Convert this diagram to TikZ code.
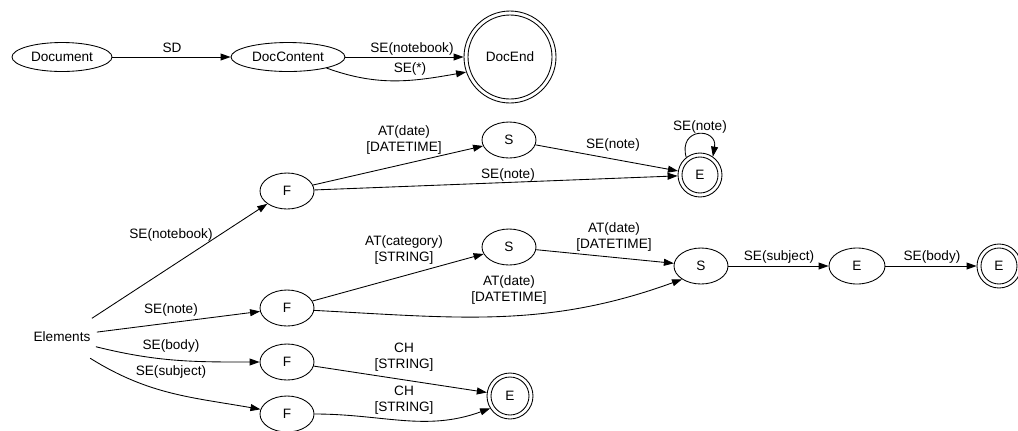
\documentclass[tikz,border=0pt]{standalone}
\usepackage{fontspec}
\setmainfont{Liberation Sans}
\usetikzlibrary{arrows.meta,shapes.geometric}

\begin{document}
\begin{tikzpicture}[x=0.75pt,y=-0.75pt,
  every node/.style={font=\fontsize{10.2}{12}\selectfont},
  st/.style={ellipse,draw,line width=0.65pt,minimum width=40.5pt,minimum height=27pt,inner sep=0pt},
  acc/.style 2 args={circle,draw,line width=0.65pt,minimum size=#1,inner sep=0pt,
    path picture={\draw[line width=0.65pt] (path picture bounding box.center) circle[radius=#2];}},
  lbl/.style={align=center,inner sep=0pt},
  conn/.style={draw,line width=0.65pt,-{Triangle[length=7.5pt,width=5.2pt]}},
]
\useasboundingbox (0,0) rectangle (1018,430);

% document level automaton
\node[st,minimum width=75pt,minimum height=21.75pt] (doc) at (62,57) {Document};
\node[st,minimum width=85.5pt,minimum height=21.75pt] (dcont) at (288,57) {DocContent};
\node[acc={69pt}{31.5pt}] (dend) at (510,57) {DocEnd};

% element automata
\node[circle,minimum size=52.5pt,inner sep=0pt] (el) at (62,337) {Elements};
\node[st] (f1) at (287,191) {F};
\node[st] (s1) at (509,140) {S};
\node[acc={33pt}{13.5pt}] (e1) at (700,175) {E};
\node[st] (f2) at (287,308) {F};
\node[st] (s2) at (509,247) {S};
\node[st] (s3) at (701,266) {S};
\node[st,minimum width=42pt] (e2) at (857,266) {E};
\node[acc={33pt}{13.5pt}] (e3) at (999,266) {E};
\node[st] (f3) at (287,362) {F};
\node[st] (f4) at (287,414) {F};
\node[acc={34.5pt}{14.25pt}] (e4) at (510,396) {E};

% transitions
\draw[conn] (doc) -- (dcont);
\draw[conn] (dcont) -- (dend);
\draw[conn] (dcont.-16) to[out=-20,in=190] (dend.-161);

\draw[conn] (el.32) -- (f1);
\draw[conn] (f1) -- (s1);
\draw[conn] (f1) -- (e1);
\draw[conn] (s1) -- (e1);
\draw[conn] (e1.128) .. controls +(105:24pt) and +(80:22pt) .. (e1.55);

\draw[conn] (el.8) -- (f2);
\draw[conn] (f2) -- (s2);
\draw[conn] (s2) -- (s3);
\draw[conn] (f2.-5) to[out=-3,in=200] (s3.215);
\draw[conn] (s3) -- (e2);
\draw[conn] (e2) -- (e3);

\draw[conn] (el.-16) to[out=-14,in=180] (f3);
\draw[conn] (el.-37) to[out=-32,in=170] (f4);
\draw[conn] (f3) -- (e4);
\draw[conn] (f4.east) to[out=0,in=200] (e4.212);

% transition labels
\node[lbl] (lsd) at (172,48) {SD};
\node[lbl] (lnb) at (412,49) {SE(notebook)};
\node[lbl] (lany) at (410,69) {SE(*)};
\node[lbl] (l1) at (404,140) {AT(date)\\[0pt][DATETIME]};
\node[lbl] (l2) at (508,175) {SE(note)};
\node[lbl] (l3) at (613,145) {SE(note)};
\node[lbl] (l4) at (700,127) {SE(note)};
\node[lbl] (l5) at (171,235) {SE(notebook)};
\node[lbl] (l6) at (404,250) {AT(category)\\[0pt][STRING]};
\node[lbl] (l7) at (614,237) {AT(date)\\[0pt][DATETIME]};
\node[lbl] (l8) at (509,290) {AT(date)\\[0pt][DATETIME]};
\node[lbl] (l9) at (171,310) {SE(note)};
\node[lbl] (l10) at (171,346) {SE(body)};
\node[lbl] (l11) at (171,372) {SE(subject)};
\node[lbl] (l12) at (779,257) {SE(subject)};
\node[lbl] (l13) at (932,257) {SE(body)};
\node[lbl] (l14) at (404,357) {CH\\[0pt][STRING]};
\node[lbl] (l15) at (404,400) {CH\\[0pt][STRING]};
\end{tikzpicture}
\end{document}
